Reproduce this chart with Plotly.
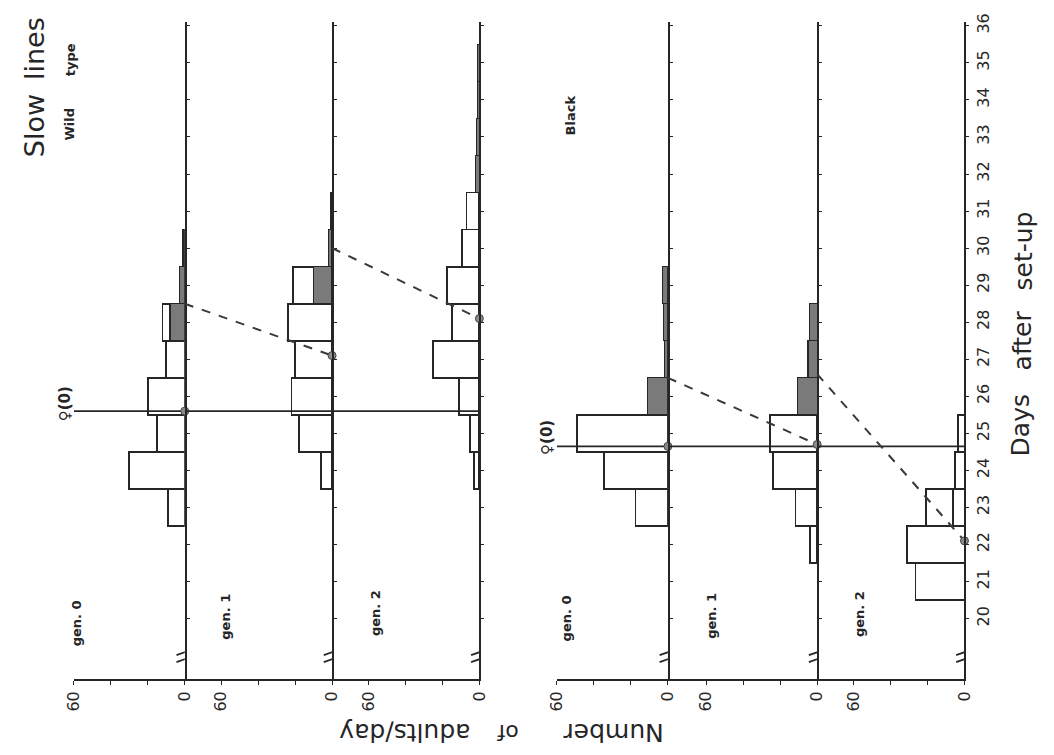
import plotly.graph_objects as go

# ---------------- data ----------------
day_ticks = list(range(20, 37))
count_ticks = [0, 20, 40, 60]
count_ticktext = ["0", "", "", "60"]

# Wild type, gen. 0
wild0_open_days = [23, 24, 25, 26, 27, 28]
wild0_open = [9, 30, 15, 20, 10, 4]
wild0_shaded_days = [28, 29, 30]
wild0_shaded = [8, 3, 1]
# Wild type, gen. 1
wild1_open_days = [24, 25, 26, 27, 28, 29]
wild1_open = [6, 18, 22, 20, 24, 11]
wild1_shaded_days = [29, 30, 31]
wild1_shaded = [10, 2, 1]
# Wild type, gen. 2
wild2_open_days = [24, 25, 26, 27, 28, 29, 30, 31]
wild2_open = [3, 5, 11, 25, 15, 17.5, 9.5, 7]
wild2_shaded_days = [32, 33, 34, 35]
wild2_shaded = [2, 1.5, 1, 1]

# Black, gen. 0
black0_open_days = [23, 24, 25]
black0_open = [17.5, 34.5, 49]
black0_shaded_days = [26, 27, 28, 29]
black0_shaded = [11, 2, 2.5, 3]
# Black, gen. 1
black1_open_days = [22, 23, 24, 25]
black1_open = [3.7, 11.7, 24, 25.5]
black1_shaded_days = [26, 27, 28]
black1_shaded = [10.6, 5, 4]
# Black, gen. 2 (day-23 bar drawn in two parts)
black2_inner_days = [23]
black2_inner = [6]
black2_open_days = [21, 22, 23, 24, 25]
black2_open = [26.5, 31, 15, 5, 3.5]

# mean emergence day of each generation (circles) and day where selected
# (slow) group line starts on the parent generation
wild_mean_day = [25.6, 27.1, 28.1]
wild_sel_day = [28.5, 30.0]
black_mean_day = [24.65, 24.7, 22.1]
black_sel_day = [26.5, 26.6]

# ---------------- layout geometry ----------------
W, H = 1054, 755
ppu = 113 / 60.0                        # pixels per count unit
panel_px = [(65, 178), (178, 328), (328, 478), (557, 670), (670, 822), (822, 972)]
y_bot_px, y_top_px = 678, 13
day20_px, px_per_day = 617, 37.5


def day_at(py):
    return 20 + (day20_px - py) / px_per_day


y_range = [day_at(y_bot_px), day_at(y_top_px)]
y_dom = [1 - y_bot_px / H, 1 - y_top_px / H]
left_vals = [(b - a) / ppu for a, b in panel_px]

INK = "#262626"
SHADE = "#7a7a7a"
FONT = "DejaVu Sans"

fig = go.Figure()

panels = [
    (None, None, wild0_shaded_days, wild0_shaded, wild0_open_days, wild0_open),
    (None, None, wild1_shaded_days, wild1_shaded, wild1_open_days, wild1_open),
    (None, None, wild2_shaded_days, wild2_shaded, wild2_open_days, wild2_open),
    (None, None, black0_shaded_days, black0_shaded, black0_open_days, black0_open),
    (None, None, black1_shaded_days, black1_shaded, black1_open_days, black1_open),
    (black2_inner_days, black2_inner, None, None, black2_open_days, black2_open),
]

for i, (idays, ivals, sdays, svals, odays, ovals) in enumerate(panels):
    xa = "x" if i == 0 else f"x{i+1}"
    ya = "y" if i == 0 else f"y{i+1}"
    if idays:
        fig.add_trace(go.Bar(y=idays, x=ivals, orientation="h", xaxis=xa, yaxis=ya,
                             width=1, marker=dict(color="white", line=dict(color=INK, width=1.8)),
                             showlegend=False))
    if sdays:
        fig.add_trace(go.Bar(y=sdays, x=svals, orientation="h", xaxis=xa, yaxis=ya,
                             width=1, marker=dict(color=SHADE, line=dict(color=INK, width=1.3)),
                             showlegend=False))
    fig.add_trace(go.Bar(y=odays, x=ovals, orientation="h", xaxis=xa, yaxis=ya,
                         width=1, marker=dict(color="white", line=dict(color=INK, width=1.8)),
                         showlegend=False))

# female (0) reference lines, dashed links and mean circles
groups = [(0, wild_mean_day, wild_sel_day), (3, black_mean_day, black_sel_day)]
for start, means, sels in groups:
    for k in range(3):
        i = start + k
        xa = "x" if i == 0 else f"x{i+1}"
        ya = "y" if i == 0 else f"y{i+1}"
        fig.add_trace(go.Scatter(x=[left_vals[i], 0], y=[means[0], means[0]], mode="lines",
                                 xaxis=xa, yaxis=ya, line=dict(color=INK, width=1.8),
                                 showlegend=False, cliponaxis=False, hoverinfo="skip"))
        if k > 0:
            fig.add_trace(go.Scatter(x=[left_vals[i], 0], y=[sels[k-1], means[k]], mode="lines",
                                     xaxis=xa, yaxis=ya,
                                     line=dict(color="#3a3a3a", width=2, dash="dash"),
                                     showlegend=False, cliponaxis=False, hoverinfo="skip"))
        fig.add_trace(go.Scatter(x=[0], y=[means[k]], mode="markers", xaxis=xa, yaxis=ya,
                                 marker=dict(size=8, color="#8a8a8a", line=dict(color="#444", width=1)),
                                 showlegend=False, cliponaxis=False, hoverinfo="skip"))

layout = dict(
    width=W, height=H, margin=dict(l=0, r=0, t=0, b=0),
    paper_bgcolor="white", plot_bgcolor="white", barmode="stack",
    font=dict(family=FONT, color=INK), showlegend=False,
)
for i, (a, b) in enumerate(panel_px):
    xk = "xaxis" if i == 0 else f"xaxis{i+1}"
    yk = "yaxis" if i == 0 else f"yaxis{i+1}"
    ya = "y" if i == 0 else f"y{i+1}"
    xa = "x" if i == 0 else f"x{i+1}"
    layout[xk] = dict(domain=[a / W, b / W], range=[left_vals[i], 0], anchor=ya,
                      showline=True, linecolor=INK, linewidth=1.8, showgrid=False, zeroline=False,
                      tickvals=count_ticks, ticktext=count_ticktext, tickangle=-90,
                      ticks="outside", ticklen=4, tickcolor=INK,
                      tickfont=dict(size=16, family=FONT, color=INK), fixedrange=True)
    yd = dict(domain=y_dom, range=y_range, anchor=xa, side="right",
              showline=True, linecolor=INK, linewidth=1.8, showgrid=False, zeroline=False,
              tickvals=day_ticks, ticks="outside", ticklen=3, tickcolor=INK,
              showticklabels=(i == 5), tickangle=-90,
              tickfont=dict(size=16, family=FONT, color=INK), fixedrange=True)
    if i > 0:
        yd["matches"] = "y"
    layout[yk] = yd
fig.update_layout(**layout)

# axis-break marks on each baseline
for i in range(6):
    xa = "x" if i == 0 else f"x{i+1}"
    ya = "y" if i == 0 else f"y{i+1}"
    for yb in (day_at(651), day_at(658)):
        fig.add_shape(type="line", xref=xa, yref=ya, x0=4.5, x1=-4.5, y0=yb - 0.08, y1=yb + 0.08,
                      line=dict(color=INK, width=1.8))


def ann(text, px, py, size, angle=-90, bold=False):
    t = f"<b>{text}</b>" if bold else text
    fig.add_annotation(text=t, x=px / W, y=1 - py / H, xref="paper", yref="paper",
                       showarrow=False, textangle=angle, xanchor="center", yanchor="middle",
                       font=dict(size=size, family=FONT, color=INK))


ann("Slow", 25, 118, 27)
ann("lines", 25, 40, 27)
ann("Wild", 61, 116, 13, bold=True)
ann("type", 61, 51, 13, bold=True)
ann("Black", 571, 108, 13, bold=True)
for txt, px, py in [("gen. 0", 68, 622), ("gen. 1", 220, 615), ("gen. 2", 372, 611),
                    ("gen. 0", 567, 617), ("gen. 1", 715, 614), ("gen. 2", 865, 612)]:
    ann(txt, px, py, 13, bold=True)
ann("♀(0)", 56, 399, 15, bold=True)
ann("♀(0)", 547, 434, 15, bold=True)
ann("Days", 1030, 421, 25)
ann("after", 1031, 335, 25)
ann("set-up", 1032, 245, 25)
ann("Number", 614, 732, 25, angle=180)
ann("of", 507, 732, 22, angle=180)
ann("adults/day", 402, 732, 25, angle=180)

fig.write_html("out.html")
